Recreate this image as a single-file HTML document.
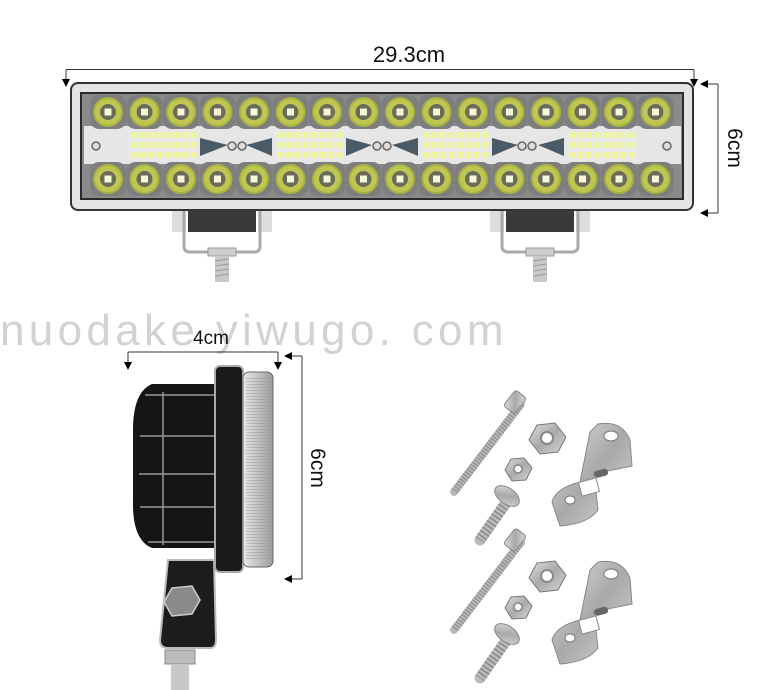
<!DOCTYPE html>
<html><head><meta charset="utf-8"><style>
html,body{margin:0;padding:0;background:#fff;width:778px;height:690px;overflow:hidden}
svg{display:block}
text{font-family:"Liberation Sans",sans-serif}
</style></head><body>
<svg width="778" height="690" viewBox="0 0 778 690" xmlns="http://www.w3.org/2000/svg">
<defs>
<linearGradient id="lens" x1="0" y1="0" x2="1" y2="0">
<stop offset="0" stop-color="#e8e8e8"/><stop offset="0.5" stop-color="#c4c4c4"/><stop offset="1" stop-color="#9a9a9a"/></linearGradient>
<linearGradient id="metal" x1="0" y1="0" x2="1" y2="1">
<stop offset="0" stop-color="#e0e0e0"/><stop offset="0.5" stop-color="#a9a9a9"/><stop offset="1" stop-color="#d8d8d8"/></linearGradient>
<pattern id="ridge" width="4" height="3" patternUnits="userSpaceOnUse"><rect width="4" height="1" fill="#999" opacity="0.5"/></pattern>
<g id="led">
<rect x="-18" y="-17" width="36" height="34" rx="9" fill="#7e7e7e"/>
<circle r="15" fill="#a9b33f"/>
<circle r="13" fill="#bfc752"/>
<circle r="8" fill="#6b6b5a"/>
<rect x="-3.5" y="-3.5" width="7" height="7" fill="#f4f7d8"/>
</g>
<g id="chips">
<rect x="0" y="0" width="70" height="32" fill="#e8e8e8"/>
<g fill="#eef59a">
<rect x="3" y="3" width="6" height="6"/><rect x="11.5" y="3" width="6" height="6"/><rect x="20" y="3" width="6" height="6"/><rect x="28.5" y="3" width="6" height="6"/><rect x="37" y="3" width="6" height="6"/><rect x="45.5" y="3" width="6" height="6"/><rect x="54" y="3" width="6" height="6"/><rect x="62.5" y="3" width="6" height="6"/>
<rect x="3" y="13" width="6" height="6"/><rect x="11.5" y="13" width="6" height="6"/><rect x="20" y="13" width="6" height="6"/><rect x="28.5" y="13" width="6" height="6"/><rect x="37" y="13" width="6" height="6"/><rect x="45.5" y="13" width="6" height="6"/><rect x="54" y="13" width="6" height="6"/><rect x="62.5" y="13" width="6" height="6"/>
<rect x="3" y="23" width="6" height="6"/><rect x="11.5" y="23" width="6" height="6"/><rect x="20" y="23" width="6" height="6"/><rect x="28.5" y="23" width="6" height="6"/><rect x="37" y="23" width="6" height="6"/><rect x="45.5" y="23" width="6" height="6"/><rect x="54" y="23" width="6" height="6"/><rect x="62.5" y="23" width="6" height="6"/>
</g></g>
<g id="mount">
<rect x="-50" y="0" width="14" height="22" fill="#ddd"/>
<rect x="36" y="0" width="14" height="22" fill="#ddd"/>
<path d="M-38 0 V36 Q-38 42 -32 42 H32 Q38 42 38 36 V0" fill="none" stroke="#aaa" stroke-width="3"/>
<rect x="-34" y="0" width="68" height="22" fill="#3a3a3a"/>
<rect x="-14" y="38" width="28" height="8" fill="#cfcfcf" stroke="#999"/>
<rect x="-7" y="46" width="14" height="26" fill="#c9c9c9"/>
<g stroke="#999" stroke-width="1"><line x1="-7" y1="51" x2="7" y2="49"/><line x1="-7" y1="56" x2="7" y2="54"/><line x1="-7" y1="61" x2="7" y2="59"/><line x1="-7" y1="66" x2="7" y2="64"/></g>
</g>
<g id="hw">
<line x1="521" y1="404" x2="454" y2="492" stroke="#b8b8b8" stroke-width="8" stroke-linecap="round"/>
<line x1="521" y1="404" x2="454" y2="492" stroke="#888" stroke-width="8" stroke-dasharray="1 2"/>
<rect x="505" y="395" width="20" height="14" rx="3" fill="url(#metal)" stroke="#888" transform="rotate(-52 515 402)"/>
<line x1="508" y1="500" x2="480" y2="540" stroke="#bbb" stroke-width="11" stroke-linecap="round"/>
<line x1="508" y1="500" x2="480" y2="540" stroke="#888" stroke-width="11" stroke-dasharray="1.5 2.5"/>
<ellipse cx="507" cy="496" rx="14" ry="8" fill="url(#metal)" stroke="#888" transform="rotate(35 507 496)"/>
<polygon points="537,425 555,423 566,437 558,452 540,454 529,440" fill="url(#metal)" stroke="#777"/>
<circle cx="547" cy="438" r="6" fill="#fff" stroke="#888" stroke-width="2"/>
<polygon points="511,459 524,458 532,468 526,480 512,481 505,470" fill="url(#metal)" stroke="#777"/>
<circle cx="518" cy="469" r="4" fill="#fff" stroke="#888" stroke-width="1.5"/>
<path d="M598 424 Q622 420 630 440 L632 466 Q612 470 594 474 L598 510 Q588 524 560 526 L552 502 Q556 488 580 482 L590 432 Z" fill="url(#metal)" stroke="#888"/>
<ellipse cx="611" cy="436" rx="7" ry="5" fill="#fff" stroke="#777"/>
<rect x="594" y="470" width="14" height="7" rx="3" fill="#666" transform="rotate(-15 600 473)"/>
<rect x="580" y="480" width="18" height="14" fill="#fff" stroke="#888" transform="rotate(-15 589 487)"/>
<ellipse cx="570" cy="500" rx="5" ry="4" fill="#fff" stroke="#777"/>
</g>
</defs>

<text x="0" y="345" font-size="44" fill="#d2d2d2" letter-spacing="1.5" textLength="505">nuodake yiwugo. com</text>

<text x="409" y="62" font-size="22" fill="#111" text-anchor="middle">29.3cm</text>
<path d="M66 69.5 H694 M66 69.5 V80 M694 69.5 V80" stroke="#333" stroke-width="1"/>
<polygon points="62,79 70,79 66,87" fill="#000"/><polygon points="690,79 698,79 694,87" fill="#000"/>
<path d="M718 84 V213 M706 84 H718 M706 213 H718" stroke="#333" stroke-width="1"/>
<polygon points="700,84 708,80 708,88" fill="#000"/><polygon points="700,213 708,209 708,217" fill="#000"/>
<text font-size="21" fill="#111" transform="translate(728,148) rotate(90)" text-anchor="middle">6cm</text>

<use href="#mount" x="222" y="210"/>
<use href="#mount" x="540" y="210"/>
<rect x="70" y="82" width="624" height="129" rx="8" fill="#333"/>
<rect x="72" y="84" width="620" height="125" rx="6" fill="#e4e4e4"/>
<rect x="80" y="92" width="604" height="108" fill="#2a2a2a"/>
<rect x="82" y="94" width="600" height="104" fill="#8a8a8a"/>
<rect x="84" y="126" width="597" height="38" fill="#e6e6e6"/>
<g>
<use href="#led" x="108" y="112"/><use href="#led" x="144.5" y="112"/><use href="#led" x="181" y="112"/><use href="#led" x="217.5" y="112"/><use href="#led" x="254" y="112"/><use href="#led" x="290.5" y="112"/><use href="#led" x="327" y="112"/><use href="#led" x="363.5" y="112"/><use href="#led" x="400" y="112"/><use href="#led" x="436.5" y="112"/><use href="#led" x="473" y="112"/><use href="#led" x="509.5" y="112"/><use href="#led" x="546" y="112"/><use href="#led" x="582.5" y="112"/><use href="#led" x="619" y="112"/><use href="#led" x="655.5" y="112"/>
<use href="#led" x="108" y="179"/><use href="#led" x="144.5" y="179"/><use href="#led" x="181" y="179"/><use href="#led" x="217.5" y="179"/><use href="#led" x="254" y="179"/><use href="#led" x="290.5" y="179"/><use href="#led" x="327" y="179"/><use href="#led" x="363.5" y="179"/><use href="#led" x="400" y="179"/><use href="#led" x="436.5" y="179"/><use href="#led" x="473" y="179"/><use href="#led" x="509.5" y="179"/><use href="#led" x="546" y="179"/><use href="#led" x="582.5" y="179"/><use href="#led" x="619" y="179"/><use href="#led" x="655.5" y="179"/>
</g>
<use href="#chips" x="128" y="129"/><use href="#chips" x="274" y="129"/><use href="#chips" x="420" y="129"/><use href="#chips" x="566" y="129"/>
<g fill="#4a5a66">
<polygon points="200,138 228,145 200,156"/><polygon points="272,138 246,145 272,156"/>
<polygon points="346,138 372,145 346,156"/><polygon points="418,138 392,145 418,156"/>
<polygon points="492,138 518,145 492,156"/><polygon points="564,138 538,145 564,156"/>
</g>
<g fill="#ddd" stroke="#666" stroke-width="1.5">
<circle cx="96" cy="146" r="4"/><circle cx="232" cy="146" r="4"/><circle cx="242" cy="146" r="4"/>
<circle cx="377" cy="146" r="4"/><circle cx="387" cy="146" r="4"/><circle cx="522" cy="146" r="4"/><circle cx="532" cy="146" r="4"/><circle cx="667" cy="146" r="4"/>
</g>

<text x="211" y="344" font-size="19" fill="#111" text-anchor="middle">4cm</text>
<path d="M128 352 H278 M128 352 V362 M278 352 V362" stroke="#333" stroke-width="1"/>
<polygon points="124,362 132,362 128,370" fill="#000"/><polygon points="274,362 282,362 278,370" fill="#000"/>
<path d="M302 356 V579 M290 356 H302 M290 579 H302" stroke="#333" stroke-width="1"/>
<polygon points="284,356 292,352 292,360" fill="#000"/><polygon points="284,579 292,575 292,583" fill="#000"/>
<text font-size="21" fill="#111" transform="translate(311,468) rotate(90)" text-anchor="middle">6cm</text>

<rect x="165" y="650" width="30" height="14" fill="#bbb" stroke="#888"/>
<rect x="171" y="664" width="18" height="26" fill="#c8c8c8"/>
<path d="M168 560 L160 640 Q160 648 168 648 L210 648 Q216 648 216 640 L214 560 Z" fill="#1c1c1c" stroke="#bbb" stroke-width="2"/>
<polygon points="172,588 192,586 200,600 192,614 172,616 164,602" fill="#8a8a8a" stroke="#ccc" stroke-width="1.5"/>
<path d="M152 384 H220 V548 H152 Q132 540 133 500 V430 Q133 392 152 384 Z" fill="#151515"/>
<g stroke="#999" stroke-width="1.5" fill="none">
<path d="M145 395 H218 M140 436 H218 M139 474 H218 M140 507 H218 M148 542 H218"/>
<path d="M163 392 V545"/>
</g>
<rect x="215" y="366" width="28" height="206" rx="5" fill="#1a1a1a" stroke="#aaa" stroke-width="2"/>
<rect x="243" y="372" width="30" height="195" rx="6" fill="url(#lens)" stroke="#666" stroke-width="1"/>
<rect x="246" y="378" width="24" height="183" fill="url(#ridge)"/>

<use href="#hw"/>
<use href="#hw" y="138"/>
</svg>
</body></html>
